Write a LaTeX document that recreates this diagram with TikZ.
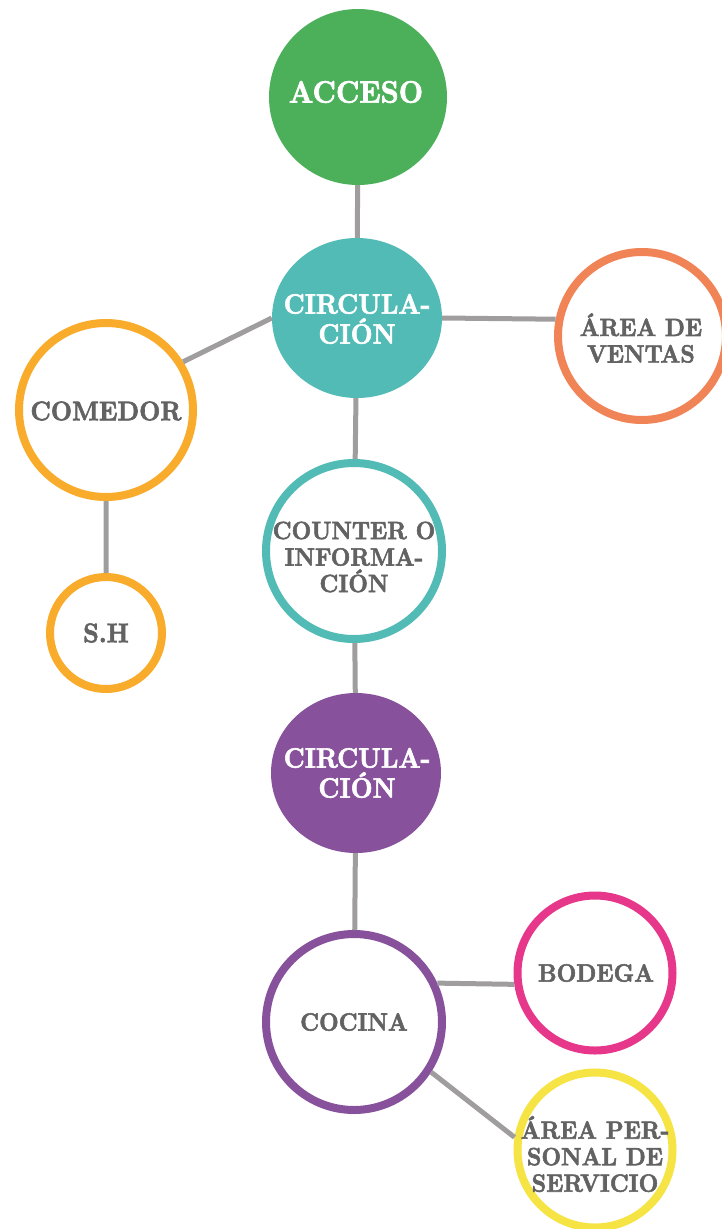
\documentclass[tikz,border=0pt]{standalone}
\usepackage{fontspec}
\usepackage{tikz}
\usetikzlibrary{shapes.geometric}

\newfontfamily\gruesa{lmroman10-bold.otf}[FakeBold=2.2,FakeStretch=0.91]

\definecolor{verde}{RGB}{76,176,91}
\definecolor{turquesa}{RGB}{82,187,181}
\definecolor{naranja}{RGB}{240,132,86}
\definecolor{ambar}{RGB}{249,172,43}
\definecolor{morado}{RGB}{135,82,155}
\definecolor{fucsia}{RGB}{230,55,138}
\definecolor{amarillo}{RGB}{245,228,68}
\definecolor{linea}{RGB}{160,157,159}
\definecolor{texto}{RGB}{98,98,98}

\begin{document}
\begin{tikzpicture}[x=1pt,y=-1pt,
  lleno/.style={ellipse,inner sep=0pt},
  anillo/.style={circle,draw=#1,line width=8pt,fill=white,inner sep=0pt},
  blanco/.style={text=white,align=center,inner sep=0pt,
    font=\gruesa\fontsize{#1}{30}\selectfont},
  blanco/.default=28,
  gris/.style={text=texto,align=center,inner sep=0pt,
    font=\gruesa\fontsize{#1}{26.5}\selectfont},
  gris/.default=25,
  enlace/.style={draw=linea,line width=5pt}]
  \useasboundingbox (0,0) rectangle (722,1229);

  % zonas principales
  \node[lleno,fill=verde,minimum width=178pt,minimum height=176pt] (acceso) at (358,97) {};
  \node[lleno,fill=turquesa,minimum width=170pt,minimum height=160pt] (circ1) at (357,318) {};
  \node[anillo=naranja,minimum size=168pt] (ventas) at (642,336) {};
  \node[anillo=ambar,minimum size=174pt] (comedor) at (106,410) {};
  \node[anillo=ambar,minimum size=112pt] (sh) at (106,633) {};
  \node[anillo=turquesa,minimum size=176pt] (counter) at (354,551) {};
  \node[lleno,fill=morado,minimum width=170pt,minimum height=160pt] (circ2) at (356,773) {};
  \node[anillo=morado,minimum size=176pt] (cocina) at (354,1022) {};
  \node[anillo=fucsia,minimum size=155pt] (bodega) at (595,973) {};
  \node[anillo=amarillo,minimum size=155pt] (personal) at (595,1150) {};

  % rotulos
  \node[blanco=31] (acceso-t) at (356,92) {ACCESO};
  \node[blanco] (circ1-t) at (357,319) {CIRCULA-\\CIÓN};
  \node[gris] (ventas-t) at (641,338) {ÁREA DE\\VENTAS};
  \node[gris=27] (comedor-t) at (106,411) {COMEDOR};
  \node[gris=27] (sh-t) at (106,633) {S.H};
  \node[gris] (counter-t) at (354,557) {COUNTER O\\INFORMA-\\CIÓN};
  \node[blanco] (circ2-t) at (357,773) {CIRCULA-\\CIÓN};
  \node[gris] (cocina-t) at (354,1022) {COCINA};
  \node[gris] (bodega-t) at (596,973) {BODEGA};
  \node[gris] (personal-t) at (595,1154) {ÁREA PER-\\SONAL DE\\SERVICIO};

  % conexiones
  \path[enlace]
    (acceso) -- (circ1)
    (circ1.east) -- (ventas.169)
    (circ1.180) -- (comedor.32)
    (comedor) -- (sh)
    (circ1) -- (counter)
    (counter) -- (circ2)
    (circ2) -- (cocina)
    (cocina.25) -- (bodega.188)
    (cocina.-33) -- (personal.171);
\end{tikzpicture}
\end{document}
